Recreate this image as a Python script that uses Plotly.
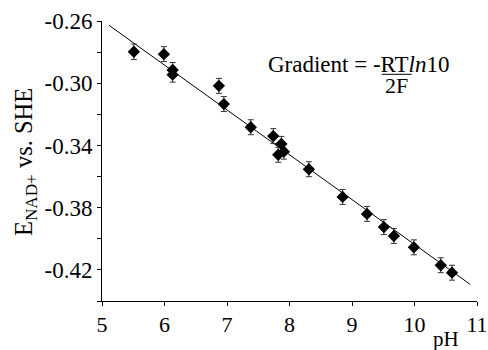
import plotly.graph_objects as go

ph = [5.51, 5.99, 6.13, 6.13, 6.87, 6.95, 7.38, 7.74, 7.87, 7.82, 7.91, 8.31, 8.85, 9.24, 9.51, 9.67, 9.99, 10.42, 10.60]
e_nad = [-0.2798, -0.2813, -0.2915, -0.2945, -0.3017, -0.3134, -0.3283, -0.3340, -0.3390, -0.3460, -0.3440, -0.3553, -0.3731, -0.3840, -0.3925, -0.3982, -0.4055, -0.4170, -0.4218]
e_err = [0.005, 0.0048, 0.0048, 0.0048, 0.0048, 0.0048, 0.0048, 0.0048, 0.0048, 0.0048, 0.0048, 0.0048, 0.0048, 0.0048, 0.0048, 0.0048, 0.0048, 0.0048, 0.0048]
fit_ph = [5.11, 10.89]
fit_e = [-0.2627, -0.4293]

x_ticks = [5, 6, 7, 8, 9, 10, 11]
y_ticks = [-0.26, -0.30, -0.34, -0.38, -0.42]
y_ticklabels = ["-0.26", "-0.30", "-0.34", "-0.38", "-0.42"]

FONT = "Liberation Serif, Times New Roman, serif"
W, H = 488, 350
ML, MR, MT, MB = 102, 11, 21, 49
PW, PH = W - ML - MR, H - MT - MB


def px_x(px):
    return (px - ML) / PW


def px_y(py):
    return (H - MB - py) / PH


def f(size):
    return dict(family=FONT, size=size, color="black")


fig = go.Figure()
fig.add_trace(go.Scatter(x=fit_ph, y=fit_e, mode="lines",
                         line=dict(color="black", width=1), showlegend=False))
fig.add_trace(go.Scatter(x=ph, y=e_nad, mode="markers",
                         marker=dict(symbol="diamond", size=9.5, color="black"),
                         error_y=dict(type="data", array=e_err, visible=True,
                                      color="#333333", thickness=1, width=3),
                         showlegend=False))

fig.update_layout(
    template="none",
    width=W, height=H,
    margin=dict(l=ML, r=MR, t=MT, b=MB, autoexpand=False),
    paper_bgcolor="white", plot_bgcolor="white",
    font=f(20),
    xaxis=dict(range=[5, 11], tickvals=x_ticks, showline=True, linecolor="black",
               linewidth=1, ticks="outside", ticklen=4, tickcolor="black",
               showgrid=False, zeroline=False, automargin=False,
               tickfont=f(22)),
    yaxis=dict(range=[-0.44, -0.26], tickvals=y_ticks, ticktext=y_ticklabels,
               showline=True, linecolor="black", linewidth=1, ticks="outside",
               ticklen=4, tickcolor="black", showgrid=False, zeroline=False,
               automargin=False, tickfont=f(23),
               minor=dict(tick0=-0.26, dtick=0.02, ticks="outside", ticklen=4,
                          tickcolor="black", showgrid=False)),
    annotations=[
        dict(text="E<sub>NAD+</sub> vs. SHE", x=px_x(25), y=px_y(162),
             xref="paper", yref="paper", textangle=-90,
             xanchor="center", yanchor="middle", showarrow=False, font=f(24.5)),
        dict(text="pH", x=px_x(446), y=px_y(339), xref="paper", yref="paper",
             xanchor="center", yanchor="middle", showarrow=False, font=f(21)),
        dict(text="Gradient = -RT<i>ln</i>10", x=px_x(266), y=px_y(64), xref="paper", yref="paper",
             xanchor="left", yanchor="middle", showarrow=False, font=f(23)),
        dict(text="2F", x=px_x(396), y=px_y(85.5), xref="paper", yref="paper",
             xanchor="center", yanchor="middle", showarrow=False, font=f(22)),
    ],
)
fig.add_shape(type="line", xref="paper", yref="paper",
              x0=px_x(381.7), x1=px_x(411.7), y0=px_y(74.3), y1=px_y(74.3),
              line=dict(color="black", width=1))

fig.write_html("out.html", config={"displayModeBar": False},
               post_script="document.body.style.margin='0';document.body.style.padding='0';")
